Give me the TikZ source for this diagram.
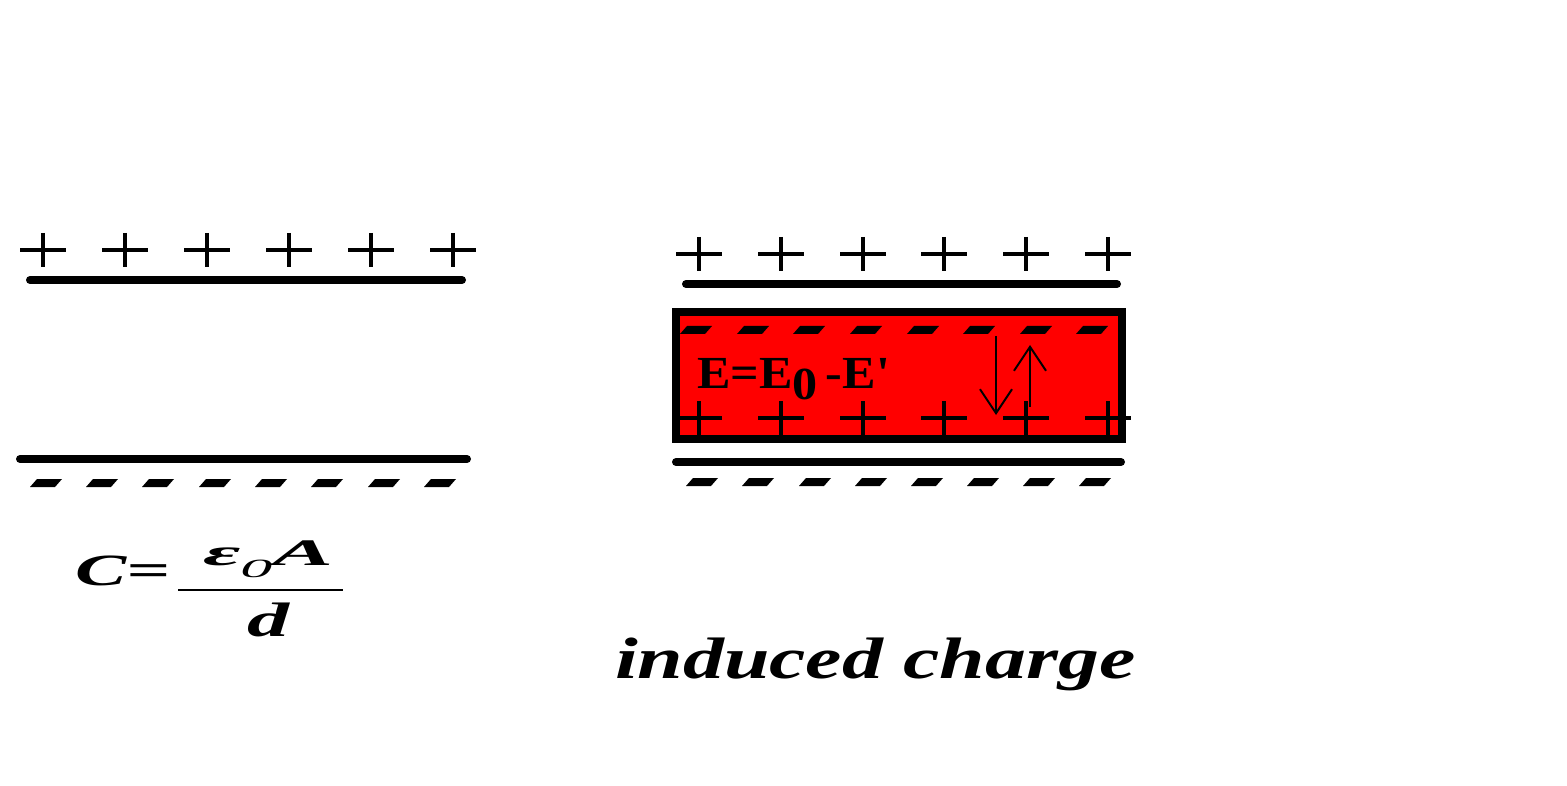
\documentclass[tikz,border=0pt]{standalone}
\usepackage{fontspec}
\setmainfont{Liberation Serif}
\newfontfamily\rawserif{Liberation Serif}
\usetikzlibrary{arrows.meta}
\tikzset{
  plate/.style={line width=8pt,line cap=round},
  frame/.style={line width=8pt,fill=red,draw=black},
  pluspic/.pic={\draw[line width=3.5pt] (-23,0)--(23,0) (0,-17)--(0,17);},
  minuspic/.pic={\fill (-16,4)--(-9,-4)--(16,-4)--(9,4)--cycle;},
  fieldarrow/.style={line width=2pt,-{Straight Barb[length=24pt,width=32pt,line width=2pt]}},
  txt/.style={inner sep=0pt,outer sep=0pt}
}
\begin{document}
\begin{tikzpicture}[x=1pt,y=-1pt]
\useasboundingbox (0,0) rectangle (1567,786);
% ---------- left capacitor ----------
\foreach \x in {43,125,207,289,371,453} \pic at (\x,250) {pluspic};
\draw[plate] (30,280) -- (462,280);
\draw[plate] (20,459) -- (467,459);
\foreach \x in {46,102,158,215,271,327,384,440} \pic at (\x,483) {minuspic};
% formula
\node[txt,anchor=north west] (C) at (75,556) {\resizebox*{95pt}{30pt}{\textbf{\textit{C=}}}};
\node[txt,anchor=north west] (num) at (203,541) {\resizebox*{130pt}{37pt}{\textbf{\textit{ε}}\raisebox{-0.7ex}{\scriptsize\textit{0}}\textbf{\textit{A}}}};
\coordinate (barL) at (178,590);
\coordinate (barR) at (343,590);
\draw[line width=2.5pt] (barL) -- (barR);
\node[txt,anchor=north west] (den) at (247,603) {\resizebox*{43pt}{34pt}{\textbf{\textit{d}}}};
% ---------- right capacitor ----------
\foreach \x in {699,781,863,944,1026,1108} \pic at (\x,254) {pluspic};
\draw[plate] (686,284) -- (1117,284);
\draw[frame] (676,312) rectangle (1122,439);
\foreach \x in {696,753,809,866,923,979,1036,1092} \pic at (\x,330) {minuspic};
\foreach \x in {699,781,863,944,1026,1108} \pic at (\x,418) {pluspic};
\draw[plate] (676,462) -- (1121,462);
\foreach \x in {702,758,815,871,927,983,1039,1095} \pic at (\x,482) {minuspic};
\node[txt,anchor=north west] (E) at (697,358) {\resizebox*{193pt}{42pt}{\textbf{E=E\raisebox{-0.25em}{0}\,-E{\rawserif\bfseries '}}}};
\coordinate (d1) at (996,336);
\coordinate (d2) at (996,415);
\coordinate (u1) at (1030,407);
\coordinate (u2) at (1030,345);
\draw[fieldarrow] (d1) -- (d2);
\draw[fieldarrow] (u1) -- (u2);
% caption
\node[txt,anchor=north west] (ind) at (615,638) {\resizebox*{520pt}{53pt}{\textbf{\textit{induced charge}}}};
\end{tikzpicture}
\end{document}
